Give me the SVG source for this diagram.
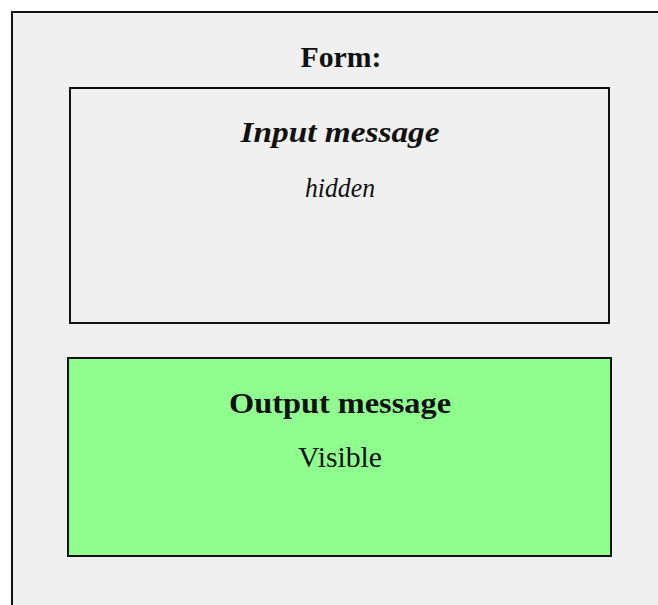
<svg xmlns="http://www.w3.org/2000/svg" width="658" height="605" viewBox="0 0 658 605">
  <style>
    .frame { fill: #f0f0f0; stroke: #111; stroke-width: 2; }
    .box { stroke: #111; stroke-width: 2; }
    .t { font-family: "Liberation Serif", "Times New Roman", serif; fill: #111; text-anchor: middle; }
  </style>
  <rect x="0" y="0" width="658" height="605" fill="#ffffff"/>
  <g id="form">
    <rect class="frame" x="12" y="12" width="660" height="610"/>
    <text class="t" x="341" y="67" font-size="30" font-weight="bold" textLength="81" lengthAdjust="spacingAndGlyphs">Form:</text>
  </g>
  <g id="input-message">
    <rect class="box" x="70" y="88" width="539" height="235" fill="#f0f0f0"/>
    <text class="t" x="340" y="142" font-size="30" font-weight="bold" font-style="italic" textLength="199" lengthAdjust="spacingAndGlyphs">Input message</text>
    <text class="t" x="340" y="197" font-size="28" font-style="italic" textLength="70" lengthAdjust="spacingAndGlyphs">hidden</text>
  </g>
  <g id="output-message">
    <rect class="box" x="68" y="358" width="543" height="198" fill="#90fe8f"/>
    <text class="t" x="340" y="413" font-size="30" font-weight="bold" textLength="222" lengthAdjust="spacingAndGlyphs">Output message</text>
    <text class="t" x="340" y="467" font-size="29" textLength="84" lengthAdjust="spacingAndGlyphs">Visible</text>
  </g>
  <g id="connectors"></g>
</svg>
